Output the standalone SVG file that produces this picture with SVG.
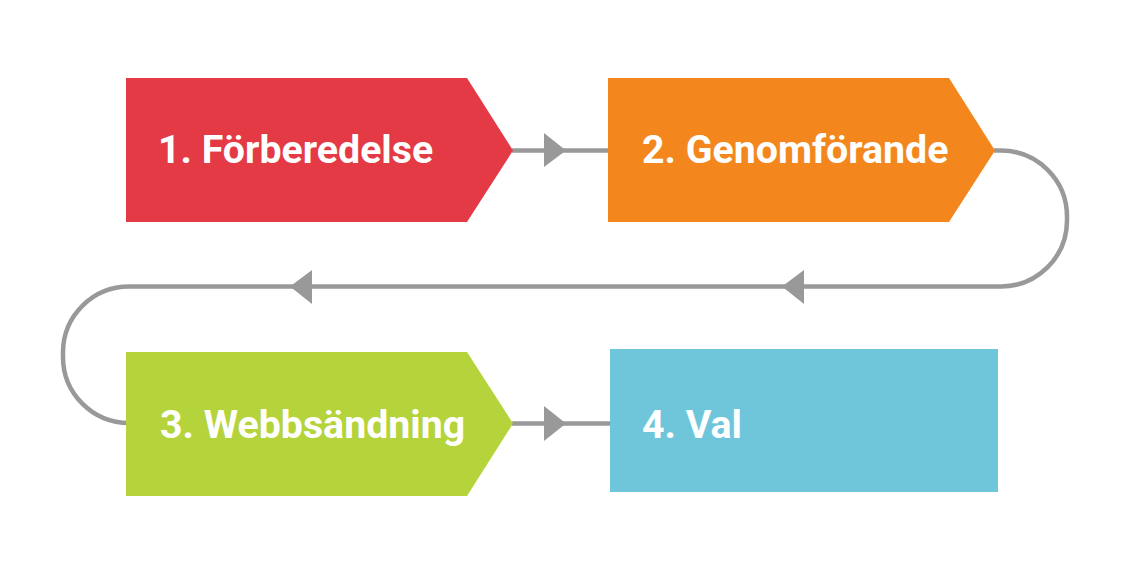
<svg xmlns="http://www.w3.org/2000/svg" width="1140" height="570" viewBox="0 0 1140 570">
<style>
.lbl{font-family:Roboto,"Liberation Sans",Arial,sans-serif;font-weight:bold;font-size:39.3px;fill:#ffffff}
.ln{fill:none;stroke:#999999;stroke-width:4.5}
.ah{fill:#999999}
</style>
<rect width="1140" height="570" fill="#ffffff"/>
<g id="connectors">
<line class="ln" x1="512" y1="150.5" x2="610" y2="150.5"/>
<polygon class="ah" points="544,133 566,150.5 544,167"/>
<path class="ln" d="M994 150.5 H1001 A66 66 0 0 1 1067 216.5 V220.5 A66 66 0 0 1 1001 286.5 H129 A66 66 0 0 0 63 352.5 V357 A66 66 0 0 0 129 423"/>
<polygon class="ah" points="804,270 782,286.5 804,304"/>
<polygon class="ah" points="312,270 290,286.5 312,304"/>
<line class="ln" x1="512" y1="423.5" x2="612" y2="423.5"/>
<polygon class="ah" points="544,406 566,423.5 544,441"/>
</g>
<g id="n1">
<polygon points="126,78 467,78 513,150.5 467,222 126,222" fill="#E33A45"/>
<text class="lbl" x="158" y="163">1. Förberedelse</text>
</g>
<g id="n2">
<polygon points="608,78 949,78 995,150.5 949,222 608,222" fill="#F3871E"/>
<text class="lbl" x="642" y="163">2. Genomförande</text>
</g>
<g id="n3">
<polygon points="126,352 467,352 513,423.5 467,496 126,496" fill="#B5D33A"/>
<text class="lbl" x="160" y="438">3. Webbsändning</text>
</g>
<g id="n4">
<rect x="610" y="349" width="388" height="143" fill="#6FC6DB"/>
<text class="lbl" x="642" y="438">4. Val</text>
</g>
</svg>
